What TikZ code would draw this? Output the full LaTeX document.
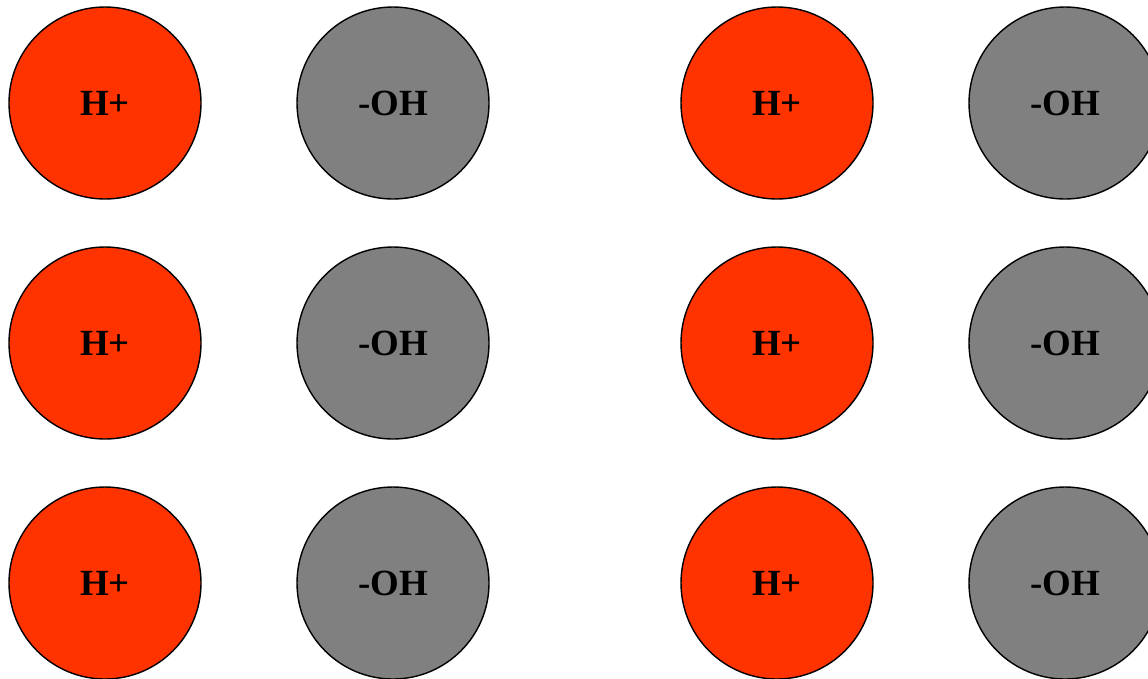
\documentclass[tikz,border=0pt]{standalone}
\usepackage{fontspec}
\setmainfont{Liberation Serif}
\usetikzlibrary{positioning}

\definecolor{ionred}{HTML}{FF3300}
\definecolor{iongray}{HTML}{808080}

\tikzset{
    ion/.style={circle, draw=black, line width=0.8pt, inner sep=0pt, outer sep=0pt,
        minimum size=3.84cm, font=\fontsize{21}{24}\selectfont\bfseries},
    hion/.style={ion, fill=ionred},
    ohion/.style={ion, fill=iongray}
}

\begin{document}
\begin{tikzpicture}
        \useasboundingbox (0,0) rectangle (22.96,-13.56);

        \node[hion] (h_a1) at (2.10,-2.06) {H+};
        \node[ohion,right=1.92cm of h_a1] (oh_a1) {-OH};
        \node[hion,right=3.84cm of oh_a1] (h_b1) {H+};
        \node[ohion,right=1.92cm of h_b1] (oh_b1) {-OH};

        \node[hion,below=0.96cm of h_a1] (h_a2) {H+};
        \node[ohion,below=0.96cm of oh_a1] (oh_a2) {-OH};
        \node[hion,below=0.96cm of h_b1] (h_b2) {H+};
        \node[ohion,below=0.96cm of oh_b1] (oh_b2) {-OH};

        \node[hion,below=0.96cm of h_a2] (h_a3) {H+};
        \node[ohion,below=0.96cm of oh_a2] (oh_a3) {-OH};
        \node[hion,below=0.96cm of h_b2] (h_b3) {H+};
        \node[ohion,below=0.96cm of oh_b2] (oh_b3) {-OH};
    \end{tikzpicture}
\end{document}
